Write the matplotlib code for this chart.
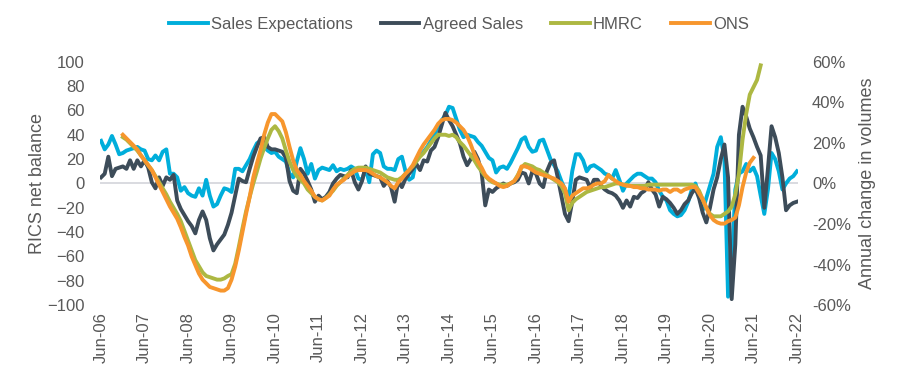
import numpy as np
import matplotlib
matplotlib.use("Agg")
import matplotlib.pyplot as plt
from matplotlib.ticker import FuncFormatter

plt.rcParams['font.family'] = ['Liberation Sans', 'DejaVu Sans']

# Monthly series, Jun-06 (index 0) to Jun-22 (index 192)
tick_labels = ['Jun-06', 'Jun-07', 'Jun-08', 'Jun-09', 'Jun-10', 'Jun-11', 'Jun-12',
               'Jun-13', 'Jun-14', 'Jun-15', 'Jun-16', 'Jun-17', 'Jun-18', 'Jun-19',
               'Jun-20', 'Jun-21', 'Jun-22']

# RICS net balances (left axis)
sales_expectations = [
    35, 28, 32, 39, 32, 24, 25, 27, 28, 29, 30, 28, 27, 20, 19, 23, 19, 26, 28, 8,
    8, 5, -6, -3, -8, -10, -11, -4, -10, 3, -10, -19, -17, -10, -4, -5, -7, 12, 12, 10,
    15, 20, 27, 33, 35, 30, 27,
    25, 26, 22, 20, 18, 8, 5, 18, 29, 20, 8, 16, 4, 11, 13, 12, 11, 15, 10, 12,
    11, 12, 14, 12, 4, 3, 12, 1, 24, 27, 25, 14, 12, 12, 11, 20, 22, 10, 3, 5,
    20, 23, 26, 30, 35, 40, 47, 52, 56, 63,
    62, 53, 44, 38, 40, 39, 38, 34, 31, 26, 21, 19, 9, 13, 14, 12, 17, 23, 29, 36,
    38, 30, 26, 27, 35, 36, 28, 20, 15, 10, 2, -5, -12, 10, 24, 24, 19, 10, 14, 15,
    13, 11, 8, 7, 4, 11, 3,
    -6, 0, 3, 6, 8, 8, 6, 4, 4, 1, -6, -11, -14, -22, -25, -27, -26, -22, -15, -5,
    0, -10, -22, -12, -2, 8, 30, 38, 20, -93, -70, -5, 8, 10, 16, 10, 13, 6, -10, -25,
    -5, 25, 20, 10, -5, 0, 4, 6, 10,
]
agreed_sales = [
    5, 8, 22, 6, 12, 13, 14, 12, 19, 12, 19, 14, 19, 13, 1, -4, 5, -2, 5, 3,
    7, -14, -21, -26, -31, -35, -41, -30, -23, -30, -45, -55, -50, -46, -42, -34, -24, -10, 4, 2,
    1, 12, 22, 30, 37, 38, 30,
    28, 28, 27, 26, 21, 2, -6, -8, 12, 8, 2, -5, -15, -10, -13, -11, -7, 0, 4, 7,
    6, 5, 11, 1, -5, 2, 14, 8, 7, 6, 5, -2, 2, -3, -15, 2, -3, 4, 8, 12,
    16, 11, 19, 18, 27, 30, 38, 48, 58, 52,
    47, 40, 33, 22, 15, 20, 26, 20, 9, -18, -5, -7, -4, -2, 0, -2, 0, 1, 3, 9,
    8, 0, 10, 8, 0, -3, 10, 17, 19, 5, -10, -25, -31, -15, 3, 5, 4, 3, -4, 3,
    3, -2, -5, -7, -8, -10, -14,
    -20, -14, -19, -11, -12, -8, -6, 1, -5, -9, -19, -11, -13, -16, -20, -25, -22, -17, -14, -8,
    -4, -12, -24, -32, -20, -5, 5, 20, 32, 5, -95, -50, 40, 63, 55, 45, 38, 30, 23, -20,
    12, 47, 38, 25, 5, -22, -18, -16, -15,
]

# Annual change in volumes, % (right axis); both start Dec-06 (index 6)
hmrc_start = 6
hmrc = [
    22.8, 21.6, 19.8, 18, 16.2, 13.8, 11.4, 9, 6.6, 3.6, 0.6, -2.4, -5.4, -9, -12,
    -15, -18.6, -23.4, -28.2, -33, -37.8, -40.8, -43.8, -45.6, -46.2, -46.8, -47.4, -47.4,
    -46.8, -45.6, -44.7, -39.6, -31.2, -22.2, -13.8, -6.6, 0, 6, 12.3, 17.4, 22.2, 26.4, 28.2,
    25.8, 22.2, 16.2, 10.8, 6.6, 3.6, 1.8, 0, -3, -4.8, -6.6, -7.8, -8.4, -7.2, -5.4, -3.6,
    -1.2, 0.6, 2.4, 4.2, 6, 7.2, 7.8, 7.8, 7.8, 7.2, 6.6, 6, 5.4, 4.2, 3, 2.4, 1.8, 1.8,
    3, 4.8, 6.6, 8.4, 10.8, 13.2, 15, 17.4, 19.8, 22.2, 24, 24, 24, 23.4,
    24, 22.8, 20.4, 18.6, 16.2, 13.8, 11.4, 8.4, 6, 3.6, 1.8, 0.6, 0, -0.6, -0.6, -0.6,
    0, 1.2, 4.2, 7.8, 9.6, 9, 8.4, 7.2, 6.6, 5.4, 4.2, 3, 1.8, 0.6, -1.2, -4.8, -13.2,
    -9.6, -7.8, -6.6, -5.4, -4.2, -3.6, -3, -2.4, -1.8, -1.8, -1.2, -0.6, 0, 0,
    -0.6, -0.6, -1.2, -1.2, -1.2, -1.2, -1.2, -0.6, -0.6, -0.6, -0.6, -0.6, -0.6, -0.6,
    -0.6, -0.6, -0.6, -0.6, -0.6, -0.6, -1.2, -3.6, -7.8, -12, -15, -16.2, -16.2, -16.2,
    -15, -13.8, -11.4, -5.4, 4.8, 21.6, 34.2, 43.8, 47.4, 51, 58.2,
]
ons_start = 6
ons = [
    24, 22.2, 20.4, 18.6, 16.8, 13.8, 11.4, 9, 6.6, 3, -0.6, -4.2, -7.8, -11.4, -14.4,
    -17.4, -21.6, -26.4, -30.6, -36, -40.2, -44.4, -47.4, -49.2, -51, -51.6, -52.2, -52.8,
    -52.8, -51.6, -47.4, -41, -33, -24, -15, -6.6, 3, 9.9, 16.5, 24, 30, 34.2,
    34.2, 32.4, 30.6, 25.2, 18, 11.4, 6.6, 4.2, 1.2, -1.2, -3.6, -6.6, -7.8, -8.4, -7.2,
    -6, -3, -0.6, 0.6, 1.8, 3.6, 4.8, 6, 6.6, 6.6, 6.6, 6, 4.8, 3.6, 3, 1.8, 0.6, -1.2,
    -2.4, 0.6, 2.4, 4.8, 6.6, 9, 12.6, 16.2, 19.2, 21.6, 24, 26.4, 29.4, 31.2, 31.8, 31.8,
    31.2, 30, 28.2, 26.4, 23.4, 19.2, 14.4, 10.8, 7.8, 4.2, 2.4, 1.2, 0, -1.2, -1.8, -1.2,
    0, 1.2, 3.6, 8.4, 8.4, 7.8, 6.6, 5.4, 4.8, 4.2, 3.6, 3, 2.4, 1.2, 0, -2.4, -9, -6,
    -4.8, -3.6, -2.4, -2.4, -1.8, -0.6, 0, 0, 1.2, 4.2, 2.4, 1.2, 0,
    -0.6, -1.2, -1.2, -1.8, -1.8, -2.4, -2.4, -3, -3, -3, -3.6, -3, -3, -4.2, -3, -3,
    -4.2, -3, -2.4, -1.8, -1.8, -4.8, -7.8, -12, -15.6, -18, -19.2, -19.8, -19.8, -18.6,
    -18, -16.8, -10.8, -1.8, 5.4, 10.2, 12.6,
]

c_se = '#00AEDB'
c_as = '#3D4C59'
c_hm = '#ADB842'
c_on = '#F7962D'
txt = '#595959'

fig = plt.figure(figsize=(9, 3.8), dpi=100)
ax = fig.add_axes([100 / 900, 1 - 305.2 / 380, 698 / 900, (305.2 - 61.7) / 380])
ax2 = ax.twinx()

x_rics = np.arange(len(sales_expectations))
x_hm = np.arange(hmrc_start, hmrc_start + len(hmrc))
x_on = np.arange(ons_start, ons_start + len(ons))

ax.axhline(0, color='#D9DBE0', lw=1.4, zorder=0)
l1, = ax.plot(x_rics, sales_expectations, color=c_se, lw=2.8, solid_joinstyle='round', label='Sales Expectations')
l2, = ax.plot(np.arange(len(agreed_sales)), agreed_sales, color=c_as, lw=2.8, solid_joinstyle='round', label='Agreed Sales')
l3, = ax2.plot(x_hm, hmrc, color=c_hm, lw=2.8, solid_joinstyle='round', label='HMRC')
l4, = ax2.plot(x_on, ons, color=c_on, lw=2.8, solid_joinstyle='round', label='ONS')

ax.set_xlim(-0.3, 192.3)
ax.set_ylim(-100, 100)
ax2.set_ylim(-60, 60)
ax.set_yticks(np.arange(-100, 101, 20))
ax2.set_yticks(np.arange(-60, 61, 20))
ax2.yaxis.set_major_formatter(FuncFormatter(lambda v, p: f'{v:.0f}%'))
ax.set_xticks(np.arange(0, 193, 12))
ax.set_xticklabels(tick_labels, rotation=90)

for a in (ax, ax2):
    for s in a.spines.values():
        s.set_visible(False)
ax.tick_params(axis='y', length=0, pad=11, labelsize=12, labelcolor=txt)
ax2.tick_params(axis='y', length=0, pad=10, labelsize=12, labelcolor=txt)
ax.tick_params(axis='x', length=0, pad=5, labelsize=12, labelcolor=txt)

ax.set_ylabel('RICS net balance', fontsize=13, color=txt, labelpad=1)
ax2.set_ylabel('Annual change in volumes', fontsize=13, color=txt, labelpad=6)

fig.legend([l1, l2, l3, l4], ['Sales Expectations', 'Agreed Sales', 'HMRC', 'ONS'],
           loc='center', bbox_to_anchor=(0.51, 0.935), ncol=4, frameon=False,
           handlelength=2.3, handletextpad=0.2, columnspacing=1.7, fontsize=12,
           labelcolor=txt)

fig.savefig('out.png', dpi=100)
